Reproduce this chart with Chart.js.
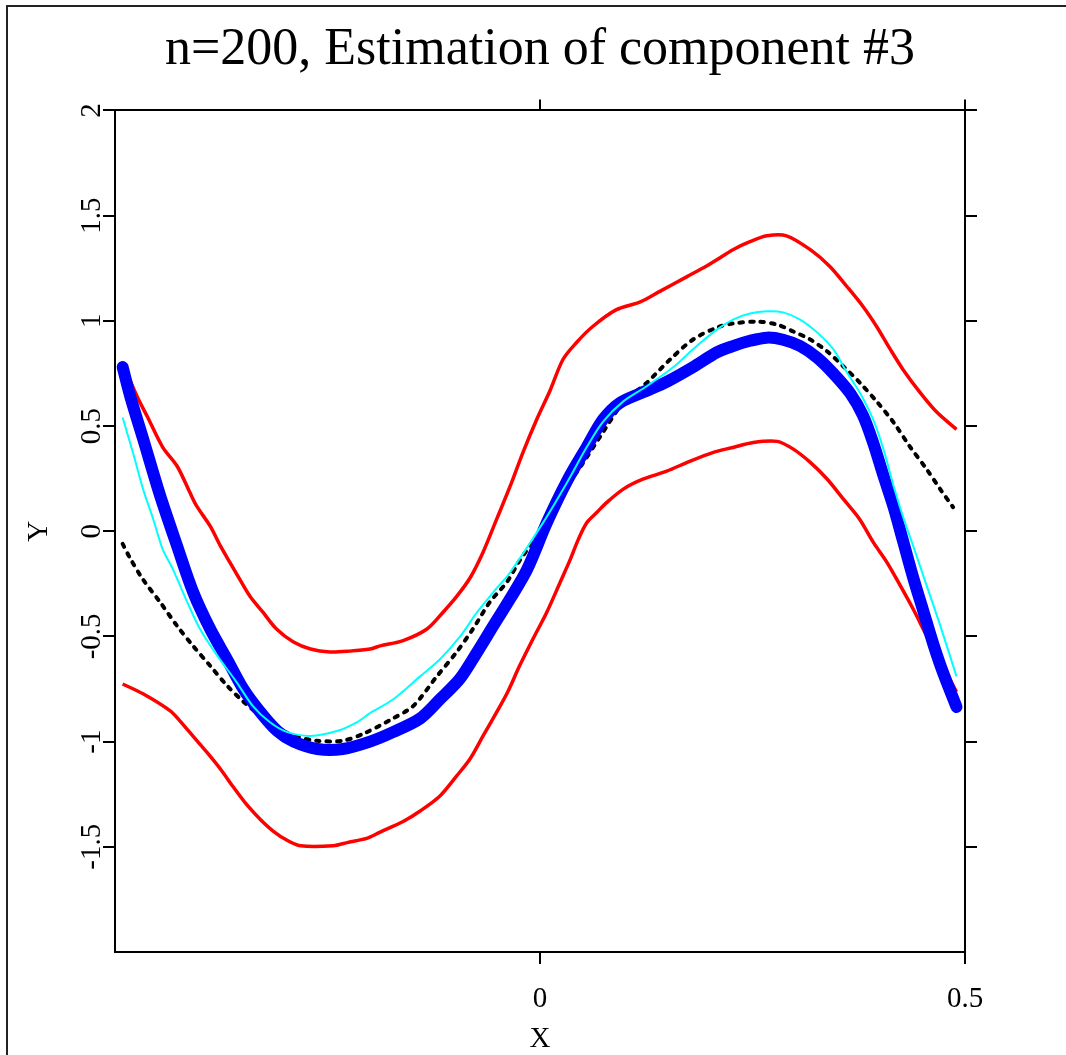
<!DOCTYPE html>
<html>
<head>
<meta charset="utf-8">
<script src="https://cdn.jsdelivr.net/npm/chart.js@4/dist/chart.umd.min.js"></script>
<style>
  html, body { margin: 0; padding: 0; background: #fff; }
  #wrap { width: 1066px; height: 1055px; position: relative; }
</style>
</head>
<body>
<div id="wrap"><canvas id="c" width="1066" height="1055"></canvas></div>
<script>
// ---- data ----
const titleText = 'n=200, Estimation of component #3';
const xTickValues = [0, 0.5];
const xTickLabels = ['0', '0.5'];
const yTickValues = [2, 1.5, 1, 0.5, 0, -0.5, -1, -1.5];
const yTickLabels = ['2', '1.5', '1', '0.5', '0', '-0.5', '-1', '-1.5'];

const redUpperX = [-0.491,-0.474,-0.462,-0.444,-0.427,-0.412,-0.404,-0.388,-0.376,-0.365,-0.353,-0.341,-0.326,-0.31,-0.29,-0.27,-0.247,-0.224,-0.2,-0.188,-0.161,-0.133,-0.114,-0.098,-0.082,-0.067,-0.051,-0.035,-0.02,-0.004,0.012,0.027,0.043,0.062,0.09,0.118,0.141,0.173,0.196,0.208,0.227,0.247,0.267,0.29,0.318,0.341,0.361,0.38,0.396,0.412,0.427,0.447,0.467,0.49];
const redUpperY = [0.80,0.64,0.545,0.40,0.31,0.185,0.12,0.024,-0.07,-0.147,-0.23,-0.31,-0.385,-0.465,-0.527,-0.56,-0.574,-0.57,-0.56,-0.545,-0.52,-0.465,-0.385,-0.31,-0.22,-0.10,0.057,0.215,0.375,0.53,0.67,0.816,0.897,0.973,1.053,1.09,1.14,1.21,1.26,1.29,1.338,1.376,1.404,1.404,1.338,1.258,1.163,1.068,0.973,0.865,0.769,0.66,0.565,0.484];

const redLowerX = [-0.491,-0.467,-0.435,-0.424,-0.408,-0.392,-0.376,-0.361,-0.345,-0.329,-0.314,-0.298,-0.282,-0.243,-0.227,-0.204,-0.188,-0.161,-0.141,-0.118,-0.098,-0.082,-0.067,-0.051,-0.038,-0.024,-0.008,0.008,0.024,0.035,0.045,0.055,0.067,0.079,0.098,0.121,0.149,0.176,0.204,0.227,0.251,0.279,0.298,0.318,0.338,0.357,0.376,0.392,0.408,0.424,0.439,0.455,0.471,0.49];
const redLowerY = [-0.726,-0.773,-0.854,-0.90,-0.975,-1.05,-1.13,-1.215,-1.30,-1.37,-1.425,-1.468,-1.495,-1.495,-1.48,-1.46,-1.43,-1.38,-1.33,-1.26,-1.163,-1.08,-0.973,-0.86,-0.764,-0.64,-0.51,-0.385,-0.24,-0.14,-0.04,0.04,0.09,0.138,0.2,0.247,0.285,0.332,0.375,0.398,0.422,0.427,0.39,0.327,0.247,0.152,0.057,-0.052,-0.147,-0.26,-0.37,-0.498,-0.62,-0.764];

const trueX = [-0.491,-0.482,-0.467,-0.447,-0.427,-0.408,-0.388,-0.368,-0.349,-0.329,-0.309,-0.29,-0.262,-0.232,-0.208,-0.173,-0.149,-0.121,-0.098,-0.079,-0.059,-0.039,-0.024,0.004,0.027,0.051,0.074,0.098,0.126,0.153,0.18,0.208,0.227,0.256,0.279,0.298,0.318,0.338,0.357,0.376,0.396,0.416,0.435,0.455,0.471,0.486];
const trueY = [-0.06,-0.13,-0.23,-0.337,-0.45,-0.546,-0.64,-0.735,-0.81,-0.877,-0.93,-0.973,-0.996,-0.996,-0.963,-0.89,-0.83,-0.688,-0.574,-0.465,-0.337,-0.242,-0.14,0.024,0.185,0.327,0.47,0.612,0.707,0.816,0.911,0.968,0.987,0.996,0.982,0.949,0.911,0.854,0.783,0.707,0.617,0.517,0.403,0.294,0.199,0.114];

const blueX = [-0.491,-0.482,-0.467,-0.447,-0.427,-0.408,-0.388,-0.368,-0.349,-0.329,-0.309,-0.29,-0.262,-0.232,-0.2,-0.173,-0.141,-0.118,-0.094,-0.074,-0.055,-0.035,-0.015,0.008,0.032,0.055,0.074,0.094,0.121,0.149,0.18,0.208,0.227,0.247,0.267,0.286,0.306,0.326,0.345,0.365,0.38,0.392,0.404,0.416,0.427,0.439,0.451,0.463,0.474,0.49];
const blueY = [0.78,0.64,0.44,0.17,-0.07,-0.29,-0.465,-0.61,-0.75,-0.86,-0.95,-1.0,-1.035,-1.035,-1.0,-0.955,-0.89,-0.80,-0.70,-0.575,-0.45,-0.32,-0.18,0.04,0.24,0.40,0.53,0.61,0.66,0.71,0.78,0.85,0.88,0.905,0.92,0.91,0.88,0.825,0.75,0.655,0.55,0.42,0.265,0.115,-0.045,-0.22,-0.38,-0.54,-0.67,-0.835];

const cyanX = [-0.491,-0.479,-0.467,-0.455,-0.444,-0.432,-0.415,-0.4,-0.38,-0.357,-0.338,-0.318,-0.298,-0.27,-0.239,-0.215,-0.2,-0.173,-0.141,-0.118,-0.094,-0.074,-0.055,-0.035,0.004,0.032,0.055,0.074,0.098,0.126,0.157,0.18,0.208,0.227,0.247,0.267,0.286,0.306,0.326,0.345,0.361,0.376,0.392,0.404,0.416,0.427,0.439,0.455,0.471,0.49];
const cyanY = [0.54,0.375,0.20,0.057,-0.085,-0.18,-0.337,-0.465,-0.59,-0.717,-0.83,-0.907,-0.954,-0.973,-0.95,-0.907,-0.865,-0.80,-0.69,-0.61,-0.50,-0.385,-0.29,-0.195,0.043,0.233,0.40,0.52,0.617,0.69,0.78,0.865,0.958,1.006,1.035,1.045,1.04,1.006,0.945,0.865,0.755,0.66,0.53,0.39,0.215,0.07,-0.07,-0.26,-0.45,-0.69];

// ---- chart ----
const pts = (xs, ys) => xs.map((x, i) => ({ x: x, y: ys[i] }));
const SERIF = "'Liberation Serif', 'Times New Roman', serif";

const framePlugin = {
  id: 'frame',
  beforeDraw(chart) {
    const ctx = chart.ctx;
    ctx.save();
    ctx.fillStyle = '#fff';
    ctx.fillRect(0, 0, chart.width, chart.height);
    ctx.strokeStyle = '#222';
    ctx.lineWidth = 2;
    ctx.strokeRect(7, 6, chart.width + 50, chart.height + 50);
    ctx.restore();
  }
};

const axisGrid = { display: true, drawOnChartArea: false, drawTicks: true, tickLength: 12, color: '#000', lineWidth: 2 };
const axisBorder = { display: true, color: '#000', width: 2 };

new Chart(document.getElementById('c'), {
  type: 'line',
  data: {
    datasets: [
      { label: 'cyan', data: pts(cyanX, cyanY), borderColor: '#00ffff', borderWidth: 2, order: 1 },
      { label: 'estimate', data: pts(blueX, blueY), borderColor: '#0000ff', borderWidth: 12, borderCapStyle: 'round', borderJoinStyle: 'round', order: 2 },
      { label: 'true', data: pts(trueX, trueY), borderColor: '#000000', borderWidth: 4, borderDash: [3.5, 7], borderCapStyle: 'round', order: 3 },
      { label: 'upper', data: pts(redUpperX, redUpperY), borderColor: '#ff0000', borderWidth: 3.5, order: 4 },
      { label: 'lower', data: pts(redLowerX, redLowerY), borderColor: '#ff0000', borderWidth: 3.5, order: 5 }
    ]
  },
  options: {
    responsive: false,
    animation: false,
    devicePixelRatio: 1,
    layout: { padding: 0 },
    elements: { point: { radius: 0 }, line: { tension: 0.3, fill: false } },
    plugins: {
      legend: { display: false },
      tooltip: { enabled: false },
      title: {
        display: true,
        fullSize: false,
        text: titleText,
        color: '#000',
        font: { family: SERIF, size: 52, weight: 'normal', lineHeight: 1.2 },
        padding: { top: 19, bottom: 19 }
      }
    },
    scales: {
      x: {
        type: 'linear', position: 'bottom', min: -0.5, max: 0.5,
        afterBuildTicks: (s) => { s.ticks = xTickValues.map(v => ({ value: v })); },
        afterFit: (s) => { s.height = 103; },
        ticks: {
          color: '#000', padding: 18, maxRotation: 0, autoSkip: false,
          font: { family: SERIF, size: 29 },
          callback: (v) => { const i = xTickValues.indexOf(v); return i >= 0 ? xTickLabels[i] : ''; }
        },
        grid: axisGrid, border: axisBorder,
        title: { display: true, text: 'X', color: '#000', font: { family: SERIF, size: 29 }, padding: { top: 0, bottom: -2 } }
      },
      xTop: {
        type: 'linear', position: 'top', min: -0.5, max: 0.5,
        afterBuildTicks: (s) => { s.ticks = xTickValues.map(v => ({ value: v })); },
        afterFit: (s) => { s.height = 10; },
        ticks: { callback: () => '', padding: 0, font: { size: 1 } },
        grid: Object.assign({}, axisGrid, { tickLength: 11 }), border: axisBorder
      },
      y: {
        type: 'linear', position: 'left', min: -2, max: 2,
        afterBuildTicks: (s) => { s.ticks = yTickValues.map(v => ({ value: v })); },
        afterFit: (s) => { s.width = 115; },
        ticks: {
          color: '#000', autoSkip: false, minRotation: 90, maxRotation: 90,
          crossAlign: 'center', padding: -12,
          font: { family: SERIF, size: 29 },
          callback: (v) => { const i = yTickValues.indexOf(v); return i >= 0 ? yTickLabels[i] : ''; }
        },
        grid: axisGrid, border: axisBorder,
        title: { display: true, text: 'Y', color: '#000', font: { family: SERIF, size: 29 }, padding: { top: 22, bottom: 0 } }
      },
      yRight: {
        type: 'linear', position: 'right', min: -2, max: 2,
        afterBuildTicks: (s) => { s.ticks = yTickValues.map(v => ({ value: v })); },
        afterFit: (s) => { s.width = 101; },
        ticks: { callback: () => '', padding: 0, font: { size: 1 } },
        grid: axisGrid, border: axisBorder
      }
    }
  },
  plugins: [framePlugin]
});
</script>
</body>
</html>
